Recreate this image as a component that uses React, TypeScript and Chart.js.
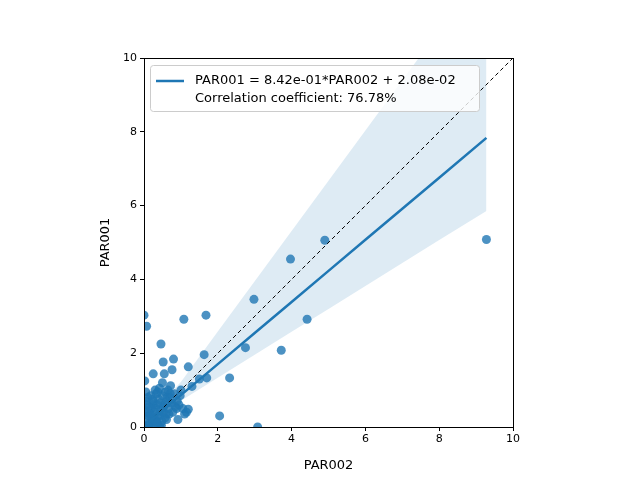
import React, { useEffect, useRef } from "react";
import { Chart, registerables } from "chart.js";
Chart.register(...registerables);

const xTicks = [0, 2, 4, 6, 8, 10];
const slope = 0.842;
const intercept = 0.0208;
const lineXs = [0, 1, 2, 3, 4, 5, 6, 7, 8, 9.28];
const upperOffset = [0.16, 0.36, 0.88, 1.4, 1.92, 2.44, 2.96, 3.48, 4.0, 4.67];
const lowerOffset = [0.07, 0.15, 0.37, 0.59, 0.81, 1.03, 1.25, 1.47, 1.69, 1.98];

const ptsX = [0, 0.07, 1.08, 1.68, 0.46, 0.52, 0.8, 1.63, 1.2, 0.76, 0.25, 0.55, 1.5, 1.7, 2.32, 2.75, 3.72, 2.98, 3.97, 4.42, 4.9, 9.28, 2.05, 3.08, 0.92, 1.15, 1.2, 1.0, 1.3, 0.65, 0.3, 0.5, 0.1,
  0.02, 0.05, 0.08, 0.12, 0.15, 0.18, 0.2, 0.22, 0.25, 0.28, 0.3, 0.33, 0.35, 0.38, 0.4, 0.42, 0.45, 0.48, 0.5, 0.55, 0.58, 0.6, 0.62, 0.66, 0.7, 0.72, 0.75, 0.78, 0.82, 0.85, 0.9, 0.95,
  0.03, 0.06, 0.1, 0.14, 0.17, 0.21, 0.24, 0.27, 0.31, 0.34, 0.37, 0.41, 0.44, 0.47, 0.53, 0.57, 0.63, 0.68, 0.02, 0.04, 0.09, 0.13, 0.19, 0.23, 0.29, 0.36, 0.43, 0.52, 0.61, 0.71, 0.88, 1.05, 1.1, 0.98];
const ptsY = [3.03, 2.73, 2.92, 3.03, 2.25, 1.76, 1.84, 1.96, 1.63, 1.55, 1.44, 1.44, 1.3, 1.33, 1.33, 2.15, 2.08, 3.46, 4.55, 2.92, 5.06, 5.08, 0.3, 0.0, 0.2, 0.4, 0.48, 1.0, 1.1, 1.0, 1.0, 1.2, 0.8,
  1.25, 0.95, 0.6, 0.3, 0.1, 0.85, 0.5, 0.2, 0.7, 0.4, 0.05, 0.9, 0.6, 0.3, 0.75, 1.05, 0.45, 0.15, 0.85, 0.6, 0.95, 0.35, 0.7, 0.5, 0.8, 1.12, 0.65, 0.4, 0.9, 0.55, 0.7, 0.6,
  0.45, 0.2, 0.05, 0.55, 0.35, 0.1, 0.6, 0.25, 0.5, 0.15, 0.95, 0.3, 0.65, 0.05, 0.55, 0.25, 0.8, 0.35, 0.0, 0.7, 0.4, 0.0, 0.3, 0.75, 0.2, 0.1, 0.0, 0.4, 0.2, 0.9, 0.5, 0.5, 0.35, 0.85];

const legendPlugin = {
  id: "boxLegend",
  afterDatasetsDraw(chart: any) {
    const ctx = chart.ctx;
    const a = chart.chartArea;
    ctx.save();
    ctx.strokeStyle = "#000";
    ctx.lineWidth = 1;
    ctx.strokeRect(Math.round(a.left) + 0.5, Math.round(a.top) + 0.5, Math.round(a.right - a.left), Math.round(a.bottom - a.top));
    const x0 = a.left + 6, y0 = a.top + 7, w = 329, h = 46;
    ctx.fillStyle = "rgba(255,255,255,0.8)";
    ctx.strokeStyle = "#cccccc";
    ctx.beginPath();
    (ctx as any).roundRect(x0 + 0.5, y0 + 0.5, w, h, 3);
    ctx.fill();
    ctx.stroke();
    ctx.strokeStyle = "#1f77b4";
    ctx.lineWidth = 2.5;
    ctx.beginPath();
    ctx.moveTo(x0 + 6, y0 + 16);
    ctx.lineTo(x0 + 34, y0 + 16);
    ctx.stroke();
    ctx.fillStyle = "#000";
    ctx.font = "13px 'DejaVu Sans'";
    ctx.textBaseline = "middle";
    ctx.fillText("PAR001 = 8.42e-01*PAR002 + 2.08e-02", x0 + 45, y0 + 16);
    ctx.fillText("Correlation coefficient: 76.78%", x0 + 45, y0 + 34);
    ctx.restore();
  },
};

const gridOpts = { display: true, drawOnChartArea: false, drawTicks: true, tickLength: 4, tickColor: "#000" };

export default function App() {
  const ref = useRef<HTMLCanvasElement>(null);
  useEffect(() => {
    const line = lineXs.map((x) => ({ x, y: slope * x + intercept }));
    const upper = lineXs.map((x, i) => ({ x, y: slope * x + intercept + upperOffset[i] }));
    const lower = lineXs.map((x, i) => ({ x, y: slope * x + intercept - lowerOffset[i] }));
    const pts = ptsX.map((x, i) => ({ x, y: ptsY[i] }));
    const chart = new Chart(ref.current!, {
      type: "scatter",
      data: {
        datasets: [
          { type: "line", data: line, borderColor: "#1f77b4", borderWidth: 2.5, pointRadius: 0, order: 0 } as any,
          { type: "line", data: [{ x: 0, y: 0 }, { x: 10, y: 10 }], borderColor: "#000", borderWidth: 1, borderDash: [4, 3], pointRadius: 0, order: 1 } as any,
          { data: pts, backgroundColor: "rgba(31,119,180,0.8)", borderWidth: 0, pointRadius: 4.5, order: 2 },
          { type: "line", data: upper, borderWidth: 0, pointRadius: 0, fill: "+1", backgroundColor: "rgba(31,119,180,0.15)", order: 3 } as any,
          { type: "line", data: lower, borderWidth: 0, pointRadius: 0, fill: false, order: 4 } as any,
        ],
      },
      options: {
        animation: false,
        responsive: false,
        layout: { padding: { left: 94, top: 58, right: 127, bottom: 3 } },
        plugins: { legend: { display: false }, tooltip: { enabled: false } },
        scales: {
          x: {
            type: "linear", min: 0, max: 10,
            afterBuildTicks: (s: any) => { s.ticks = xTicks.map((v) => ({ value: v })); },
            afterFit: (s: any) => { s.height = 50; },
            grid: gridOpts,
            border: { color: "#000" },
            ticks: { color: "#000", font: { family: "DejaVu Sans", size: 11 }, maxRotation: 0, padding: 2 },
            title: { display: true, text: "PAR002", color: "#000", font: { family: "DejaVu Sans", size: 13 }, padding: { top: 2 } },
          },
          y: {
            type: "linear", min: 0, max: 10,
            afterBuildTicks: (s: any) => { s.ticks = xTicks.map((v) => ({ value: v })); },
            afterFit: (s: any) => { s.width = 50; },
            grid: gridOpts,
            border: { color: "#000" },
            ticks: { color: "#000", font: { family: "DejaVu Sans", size: 11 }, padding: 3 },
            title: { display: true, text: "PAR001", color: "#000", font: { family: "DejaVu Sans", size: 13 } },
          },
        },
      },
      plugins: [legendPlugin],
    });
    return () => chart.destroy();
  }, []);
  return (
    <div style={{ position: "fixed", left: 0, top: 0, background: "#fff" }}>
      <canvas ref={ref} width={640} height={480} />
    </div>
  );
}
